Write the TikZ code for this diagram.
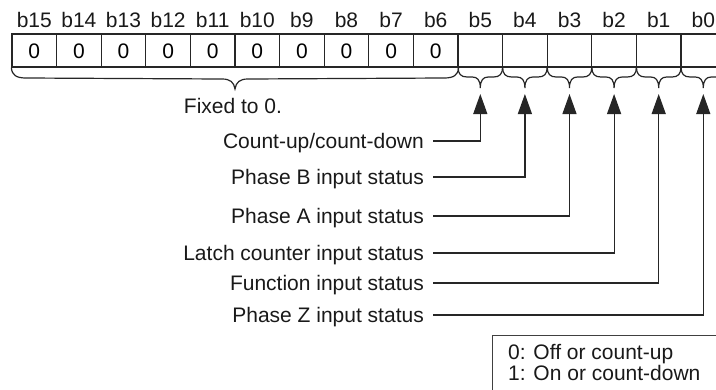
\documentclass[tikz,border=0pt]{standalone}
\usepackage{fontspec}
\setmainfont{Liberation Sans}
\usetikzlibrary{arrows.meta}
\newcommand\dgmfont{\fontsize{21}{25}\selectfont}
\begin{document}
\begin{tikzpicture}[x=1pt,y=-1pt,
  cellbox/.style={draw=black!85, line width=1.3pt, minimum width=44.6pt, minimum height=33pt, inner sep=0pt, font=\dgmfont, text height=15pt, text depth=0pt},
  lbl/.style={font=\dgmfont, inner sep=0pt, text height=15pt, text depth=0pt, text=black!90},
  arr/.style={draw=black!85, line width=1.2pt, -{Triangle[length=20pt,width=14pt]}},
  brc/.style={draw=black!85, line width=1.2pt}]
\useasboundingbox (0,0) rectangle (716,389);
\clip (0,0) rectangle (716,389);
% register cells and bit labels
\foreach \k in {0,...,15} {
  \pgfmathtruncatemacro\b{15-\k}
  \pgfmathsetmacro\xc{12+44.6*\k+22.3}
  \node[cellbox] (cell\b) at (\xc,50.5) {\ifnum\b>5 0\fi};
  \node[lbl] (lab\b) at (\xc,19.5) {b\b};
}
% big brace under b15..b6
\draw[brc] (cell15.south west) .. controls (12,75) and (16,78) .. (26,78) -- (222,79)
  .. controls (230,79) and (234,82) .. (235,89)
  .. controls (236,82) and (240,79) .. (248,79) -- (444,78)
  .. controls (454,78) and (458,75) .. (cell6.south east);
\node[lbl] (fixed) at (233,106) {Fixed to 0.};
% small braces under b5..b0
\foreach \k in {10,...,15} {
  \pgfmathtruncatemacro\b{15-\k}
  \pgfmathsetmacro\xa{12+44.6*\k}
  \pgfmathsetmacro\xb{\xa+44.6}
  \pgfmathsetmacro\xc{\xa+22.3}
  \draw[brc] (\xa,67) .. controls (\xa,74) and (\xa+3,77) .. (\xa+9,77) -- (\xc-8,77)
    .. controls (\xc-3,77) and (\xc,80) .. (\xc,88)
    .. controls (\xc,80) and (\xc+3,77) .. (\xc+8,77) -- (\xb-9,77)
    .. controls (\xb-3,77) and (\xb,74) .. (\xb,67);
  \coordinate (tip\b) at (\xc,94);
}
% descriptions
\node[lbl, anchor=east] (t5) at (424,141) {Count-up/count-down};
\node[lbl, anchor=east] (t4) at (424,177) {Phase B input status};
\node[lbl, anchor=east] (t3) at (424,216) {Phase A input status};
\node[lbl, anchor=east] (t2) at (424,253) {Latch counter input status};
\node[lbl, anchor=east] (t1) at (424,283) {Function input status};
\node[lbl, anchor=east] (t0) at (424,315) {Phase Z input status};
\foreach \b in {5,...,0} {
  \draw[arr] ([xshift=9pt]t\b.east) -| (tip\b);
}
% legend
\node[draw=black!75, line width=1pt, anchor=north west, minimum width=260pt, minimum height=80pt, inner sep=0pt] (legbox) at (492,335) {};
\node[lbl, anchor=west] (leg0) at (508,352) {0: Off or count-up};
\node[lbl, anchor=west] (leg1) at (508,373) {1: On or count-down};
\end{tikzpicture}
\end{document}
